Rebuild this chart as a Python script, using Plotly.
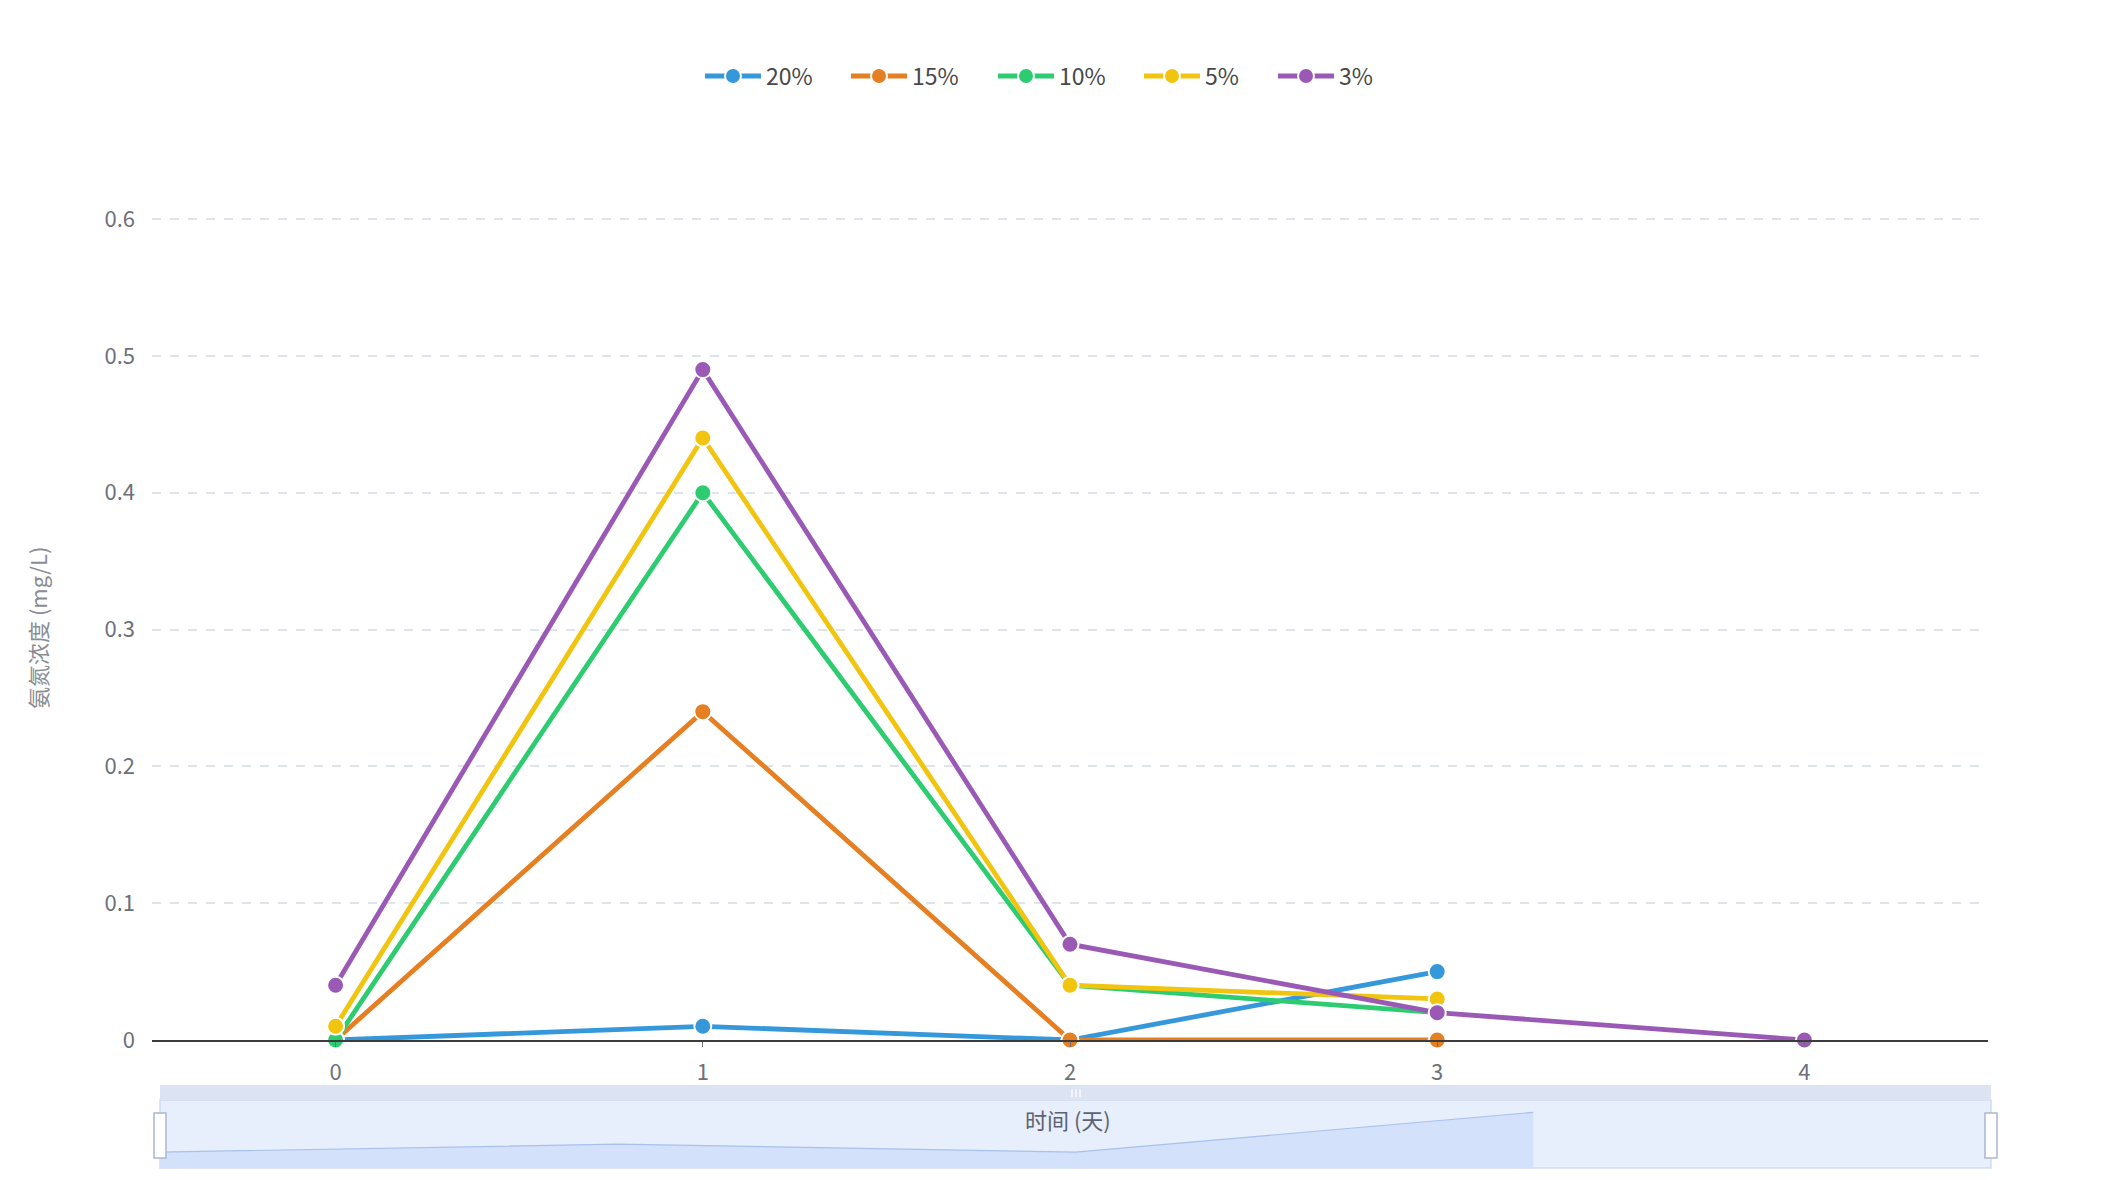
import plotly.graph_objects as go

# ---------------- data ----------------
days = ["0", "1", "2", "3", "4"]
day_nums = [0, 1, 2, 3, 4]
series_names = ["20%", "15%", "10%", "5%", "3%"]
s20 = [0.0, 0.01, 0.0, 0.05, None]
s15 = [0.0, 0.24, 0.0, 0.0, None]
s10 = [0.0, 0.40, 0.04, 0.02, None]
s5 = [0.01, 0.44, 0.04, 0.03, None]
s3 = [0.04, 0.49, 0.07, 0.02, 0.0]
series_values = [s20, s15, s10, s5, s3]
y_ticks = [0, 0.1, 0.2, 0.3, 0.4, 0.5, 0.6]
x_title = "时间 (天)"
y_title = "氨氮浓度 (mg/L)"

# ---------------- style ----------------
colors = ["#3498db", "#e67e22", "#2ecc71", "#f1c40f", "#9b59b6"]
legend_widths = [75, 76, 75, 63, 60]

W, H = 2126, 1180
FONT = "Noto Sans CJK SC"


def px(x):
    return x / W


def py(y):
    return 1 - y / H


fig = go.Figure()

for name, vals, c in zip(series_names, series_values, colors):
    fig.add_trace(go.Scatter(
        x=days, y=vals, name=name, mode="lines+markers", legendgroup=name,
        showlegend=False,
        line=dict(color=c, width=4.8),
        marker=dict(color=c, size=17, line=dict(color="white", width=2)),
        cliponaxis=False, connectgaps=False,
    ))

# legend entries (bigger icon as in the original legend)
for name, c, lw in zip(series_names, colors, legend_widths):
    fig.add_trace(go.Scatter(
        x=[None], y=[None], name=name, mode="lines+markers", legendgroup=name,
        line=dict(color=c, width=5),
        marker=dict(color=c, size=20, line=dict(color="white", width=2)),
        legendwidth=lw, hoverinfo="skip",
    ))

# data shadow inside the slider (first series)
shadow_vals = [v for v in s20 if v is not None]
shadow_x = day_nums[:len(shadow_vals)]
SHADOW_MIN, SHADOW_MAX = -0.02, 0.0656
fig.add_trace(go.Scatter(
    x=shadow_x, y=[SHADOW_MIN] * len(shadow_x), xaxis="x2", yaxis="y2",
    mode="lines", line=dict(width=0, color="rgba(0,0,0,0)"),
    showlegend=False, hoverinfo="skip",
))
fig.add_trace(go.Scatter(
    x=shadow_x, y=shadow_vals, xaxis="x2", yaxis="y2",
    mode="lines", line=dict(width=1.2, color="#a9c0ee"),
    fill="tonexty", fillcolor="#d3e1fa",
    showlegend=False, hoverinfo="skip",
))

shapes = []
# slider body
shapes.append(dict(type="rect", xref="paper", yref="paper",
                   x0=px(160), x1=px(1991), y0=py(1168), y1=py(1100),
                   fillcolor="#e7eefc", line=dict(color="#d2dbee", width=1.5),
                   layer="below"))
# top move bar
shapes.append(dict(type="rect", xref="paper", yref="paper",
                   x0=px(160), x1=px(1991), y0=py(1100), y1=py(1085),
                   fillcolor="#dce3f2", line=dict(width=0), layer="below"))
for dx in (-4, 0, 4):
    shapes.append(dict(type="line", xref="paper", yref="paper",
                       x0=px(1076 + dx), x1=px(1076 + dx), y0=py(1089), y1=py(1097),
                       line=dict(color="#ffffff", width=1.2)))
# handles
for hx in (160, 1991):
    shapes.append(dict(type="rect", xref="paper", yref="paper",
                       x0=px(hx - 6), x1=px(hx + 6), y0=py(1158), y1=py(1113),
                       fillcolor="#ffffff", line=dict(color="#acb8d1", width=1.5),
                       layer="above"))

annotations = [
    dict(text=x_title, xref="paper", yref="paper", x=px(1068), y=py(1119),
         showarrow=False, font=dict(family=FONT, size=22, color="#5d6270"),
         xanchor="center", yanchor="middle"),
    dict(text=y_title, xref="paper", yref="paper", x=px(37), y=py(628),
         showarrow=False, textangle=-90, font=dict(family=FONT, size=22, color="#8a8d94"),
         xanchor="center", yanchor="middle"),
]

fig.update_layout(
    width=W, height=H, autosize=False,
    margin=dict(l=0, r=0, t=0, b=0, pad=0, autoexpand=False),
    paper_bgcolor="white", plot_bgcolor="white",
    font=dict(family=FONT, size=22, color="#6e7079"),
    showlegend=True,
    legend=dict(orientation="h", x=px(700), xanchor="left", y=py(76), yanchor="middle",
                font=dict(family=FONT, size=23, color="#484848"),
                itemwidth=56,
                entrywidth=75, entrywidthmode="pixels",
                bgcolor="rgba(0,0,0,0)", traceorder="normal"),
    xaxis=dict(domain=[px(152), px(1988)], type="category",
               categoryorder="array", categoryarray=days, range=[-0.5, 4.5],
               showgrid=False, zeroline=False, automargin=False,
               showline=True, linecolor="#3c3c3c", linewidth=2,
               ticks="outside", ticklen=5, tickcolor="#6e7079", tickwidth=1,
               ticklabelstandoff=7,
               tickfont=dict(family=FONT, size=22, color="#6e7079")),
    yaxis=dict(domain=[py(1040), py(218)], range=[0, 0.6008], automargin=False,
               tickvals=y_ticks, ticktext=[f"{v:g}" for v in y_ticks],
               showgrid=True, gridcolor="#dfe3ea", gridwidth=1.5, griddash="dash",
               zeroline=False, showline=False, ticks="",
               ticklabelstandoff=16,
               tickfont=dict(family=FONT, size=22, color="#6e7079")),
    xaxis2=dict(domain=[px(160), px(1991)], range=[0, 4], anchor="y2",
                visible=False, fixedrange=True),
    yaxis2=dict(domain=[py(1168), py(1100)], range=[SHADOW_MIN, SHADOW_MAX], anchor="x2",
                visible=False, fixedrange=True),
    shapes=shapes,
    annotations=annotations,
)

fig.write_html("out.html", config={"displayModeBar": False},
               post_script="document.body.style.margin='0';document.body.style.overflow='hidden';")
